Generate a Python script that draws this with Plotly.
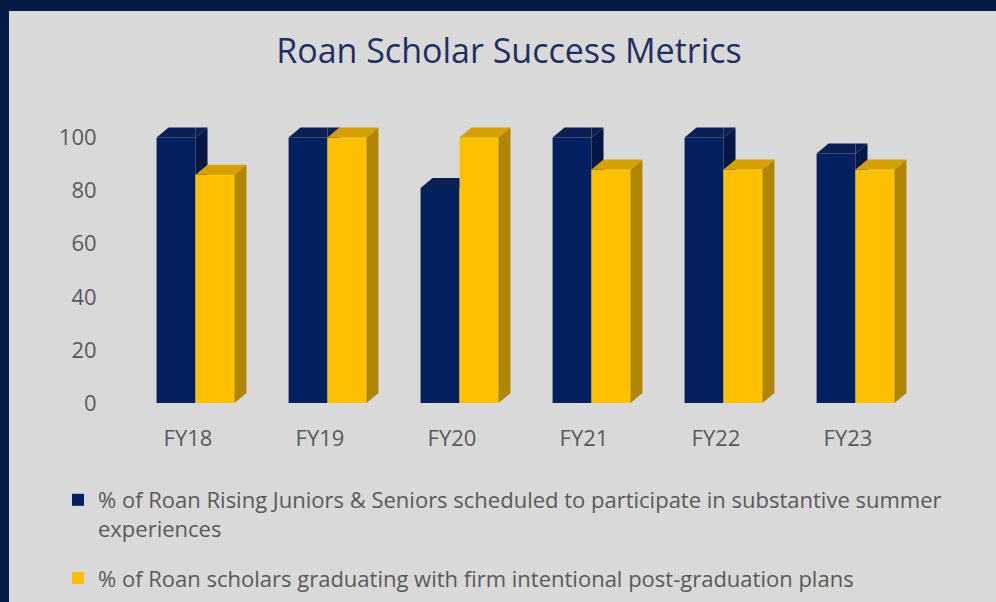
import plotly.graph_objects as go

# ---------------- data ----------------
categories = ["FY18", "FY19", "FY20", "FY21", "FY22", "FY23"]
summer_exp = [100, 100, 81, 100, 100, 94]        # navy series
grad_plans = [86, 100, 100, 88, 88, 88]          # gold series
series_names = [
    "% of Roan Rising Juniors & Seniors scheduled to participate in substantive summer<br>experiences",
    "% of Roan scholars graduating with firm intentional post-graduation plans",
]
y_ticks = [0, 20, 40, 60, 80, 100]
title_text = "Roan Scholar Success Metrics"

# ---------------- style ----------------
W, H = 996, 602
L, R, T, B = 122, 82, 111, 199
PW, PH = W - L - R, H - T - B
Y_MAX = 110
NAVY, NAVY_TOP, NAVY_SIDE = "#02205F", "#0B1F55", "#041643"
GOLD, GOLD_TOP, GOLD_SIDE = "#FFC000", "#D6A100", "#B08600"
BG, FRAME = "#D9D9D9", "#031B43"
TXT = "#595959"
FONT = "Open Sans"

BAR_W = 0.295          # bar width in category units
LABEL_SHIFT = 0.057    # bar pair boundary sits right of tick label
DX = 12 / PW * 6       # depth offset (x units) = 12 px
DY = 10 / PH * Y_MAX   # depth offset (y units) = 10 px

idx = list(range(len(categories)))


def clip(poly, f):
    """Sutherland-Hodgman clip of polygon against half-plane f(p) >= 0 (f affine)."""
    out = []
    n = len(poly)
    for k in range(n):
        p, q = poly[k], poly[(k + 1) % n]
        fp, fq = f(p), f(q)
        if fp >= 0:
            out.append(p)
        if (fp >= 0) != (fq >= 0):
            t = fp / (fp - fq)
            out.append((p[0] + t * (q[0] - p[0]), p[1] + t * (q[1] - p[1])))
    return out


def path(poly):
    if len(poly) < 3:
        return None
    return "M" + " L".join(f"{x:.5f},{y:.5f}" for x, y in poly) + " Z"


shapes = []


def add_face(poly, color):
    p = path(poly)
    if p:
        shapes.append(dict(type="path", path=p, xref="x", yref="y",
                           fillcolor=color, line=dict(width=0), layer="above"))


for i, v1, v2 in zip(idx, summer_exp, grad_plans):
    xr = i + LABEL_SHIFT           # boundary between the two fronts
    xl = xr - BAR_W
    xg = xr + BAR_W
    # navy faces, hidden where the gold front covers them
    n_side = [(xr, 0), (xr + DX, DY), (xr + DX, v1 + DY), (xr, v1)]
    n_top = [(xl, v1), (xr, v1), (xr + DX, v1 + DY), (xl + DX, v1 + DY)]
    for poly, col in ((n_side, NAVY_SIDE), (n_top, NAVY_TOP)):
        left_part = clip(poly, lambda p: xr - p[0])
        right_part = clip(clip(poly, lambda p: p[0] - xr), lambda p: p[1] - v2)
        add_face(left_part, col)
        add_face(right_part, col)
    # gold faces
    add_face([(xg, 0), (xg + DX, DY), (xg + DX, v2 + DY), (xg, v2)], GOLD_SIDE)
    add_face([(xr, v2), (xg, v2), (xg + DX, v2 + DY), (xr + DX, v2 + DY)], GOLD_TOP)


def px2x(px):
    return (px - L) / PW


def py2y(py):
    return (T + PH - py) / PH


# navy frame strips (top and left)
shapes.append(dict(type="rect", xref="paper", yref="paper", x0=px2x(0), x1=px2x(W),
                   y0=py2y(11), y1=py2y(0), fillcolor=FRAME, line=dict(width=0), layer="below"))
shapes.append(dict(type="rect", xref="paper", yref="paper", x0=px2x(0), x1=px2x(9),
                   y0=py2y(H), y1=py2y(0), fillcolor=FRAME, line=dict(width=0), layer="below"))

fig = go.Figure()
fig.add_trace(go.Bar(x=idx, y=summer_exp, name=series_names[0], offset=LABEL_SHIFT - BAR_W,
                     width=BAR_W, marker=dict(color=NAVY, line=dict(width=0)),
                     legendgroup="a", hovertemplate="%{y}<extra></extra>"))
fig.add_trace(go.Bar(x=idx, y=grad_plans, name=series_names[1], offset=LABEL_SHIFT,
                     width=BAR_W, marker=dict(color=GOLD, line=dict(width=0)),
                     legendgroup="b", hovertemplate="%{y}<extra></extra>"))

fig.update_layout(
    width=W, height=H,
    margin=dict(l=L, r=R, t=T, b=B, autoexpand=False),
    paper_bgcolor=BG, plot_bgcolor=BG,
    barmode="overlay",
    font=dict(family=FONT, color=TXT, size=22),
    title=dict(text=title_text, x=509 / W, xanchor="center", y=1 - 51 / H, yanchor="middle",
               font=dict(family=FONT, size=34, color="#1F2F63")),
    xaxis=dict(range=[-0.5, len(categories) - 0.5], tickvals=idx, ticktext=categories,
               showgrid=False, zeroline=False, showline=False,
               ticks="outside", ticklen=16, tickcolor="rgba(0,0,0,0)",
               tickfont=dict(size=22, color=TXT)),
    yaxis=dict(range=[0, Y_MAX], tickvals=y_ticks, showgrid=False, zeroline=False,
               showline=False, ticks="outside", ticklen=20, tickcolor="rgba(0,0,0,0)",
               tickfont=dict(size=22, color=TXT)),
    legend=dict(x=px2x(58), xanchor="left", y=py2y(479), yanchor="top", valign="top",
                bgcolor="rgba(0,0,0,0)", traceorder="grouped", tracegroupgap=18,
                font=dict(size=22, color=TXT)),
    shapes=shapes,
    showlegend=True,
)

fig.write_html(
    "out.html",
    config={"displayModeBar": False},
    post_script="document.body.style.margin='0';document.body.style.overflow='hidden';",
)
